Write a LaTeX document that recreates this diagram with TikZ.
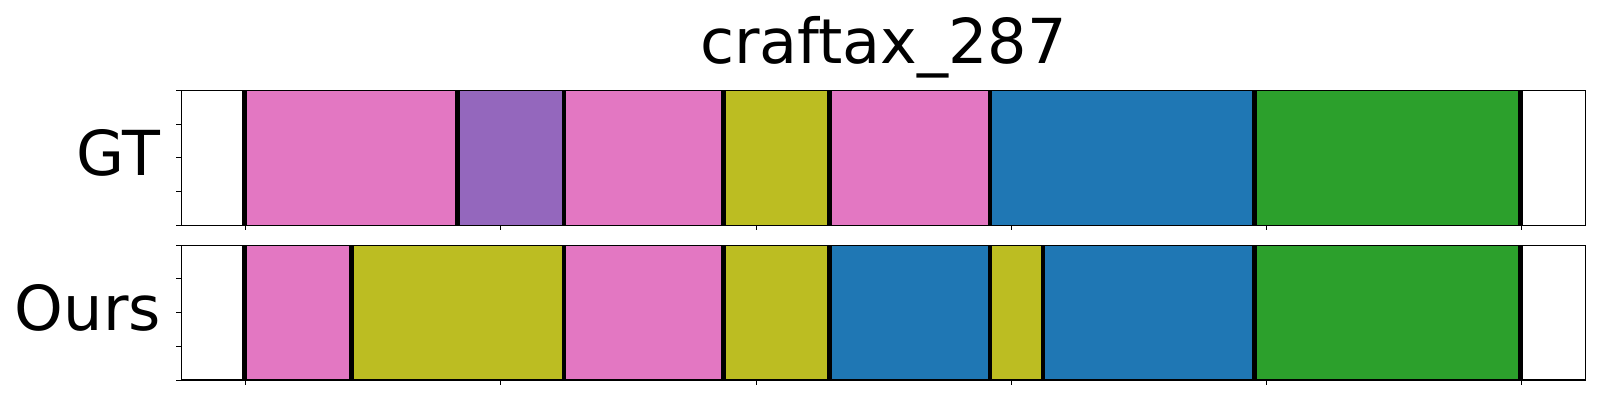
\documentclass[tikz,border=0pt]{standalone}
\usepackage{fontspec}
\setmainfont{DejaVu Sans}
\definecolor{tpink}{HTML}{E377C2}
\definecolor{tpurple}{HTML}{9467BD}
\definecolor{tolive}{HTML}{BCBD22}
\definecolor{tblue}{HTML}{1F77B4}
\definecolor{tgreen}{HTML}{2CA02C}
\begin{document}
\begin{tikzpicture}[x=1pt,y=-1pt,
  seg/.style={draw=none},
  sep/.style={line width=4.5pt,black},
  frame/.style={line width=1.3pt,black},
  tick/.style={line width=1pt,black},
  lbl/.style={font=\fontsize{62}{62}\selectfont,inner sep=0pt}]
\useasboundingbox (0,0) rectangle (1600,400);
% GT row
\def\ta{90.3}\def\tb{225.3}
\fill[tpink]   (244.7,\ta) rectangle (457.7,\tb);
\fill[tpurple] (457.7,\ta) rectangle (564,\tb);
\fill[tpink]   (564,\ta) rectangle (723.7,\tb);
\fill[tolive]  (723.7,\ta) rectangle (829.7,\tb);
\fill[tpink]   (829.7,\ta) rectangle (990,\tb);
\fill[tblue]   (990,\ta) rectangle (1254.7,\tb);
\fill[tgreen]  (1254.7,\ta) rectangle (1520.7,\tb);
\foreach \x in {244.7,457.7,564,723.7,829.7,990,1254.7,1520.7}
  \draw[sep] (\x,\ta) -- (\x,\tb);
% Ours row
\def\ba{245.3}\def\bb{380}
\fill[tpink]   (244.7,\ba) rectangle (351.7,\bb);
\fill[tolive]  (351.7,\ba) rectangle (564,\bb);
\fill[tpink]   (564,\ba) rectangle (723.7,\bb);
\fill[tolive]  (723.7,\ba) rectangle (829.7,\bb);
\fill[tblue]   (829.7,\ba) rectangle (990,\bb);
\fill[tolive]  (990,\ba) rectangle (1043,\bb);
\fill[tblue]   (1043,\ba) rectangle (1254.7,\bb);
\fill[tgreen]  (1254.7,\ba) rectangle (1520.7,\bb);
\foreach \x in {244.7,351.7,564,723.7,829.7,990,1043,1254.7,1520.7}
  \draw[sep] (\x,\ba) -- (\x,\bb);
% frames
\draw[frame] (181.3,\ta) rectangle (1585.7,\tb);
\draw[frame] (181.3,\ba) rectangle (1585.7,\bb);
% x ticks
\foreach \x in {245.7,500.9,756.1,1011.3,1266.5,1521.7} {
  \draw[tick] (\x,\tb) -- (\x,\tb+5);
  \draw[tick] (\x,\bb) -- (\x,\bb+5);
}
% y ticks
\foreach \i in {0,...,4} {
  \draw[tick] (176,{\ta+\i*33.75}) -- (181.3,{\ta+\i*33.75});
  \draw[tick] (176,{\ba+\i*33.675}) -- (181.3,{\ba+\i*33.675});
}
% labels
\node[lbl,anchor=base] (title) at (883.5,63.3) {craftax\_287};
\node[lbl,anchor=base east] (gt) at (160.5,175) {GT};
\node[lbl,anchor=base east] (ours) at (161,330) {Ours};
\end{tikzpicture}
\end{document}
